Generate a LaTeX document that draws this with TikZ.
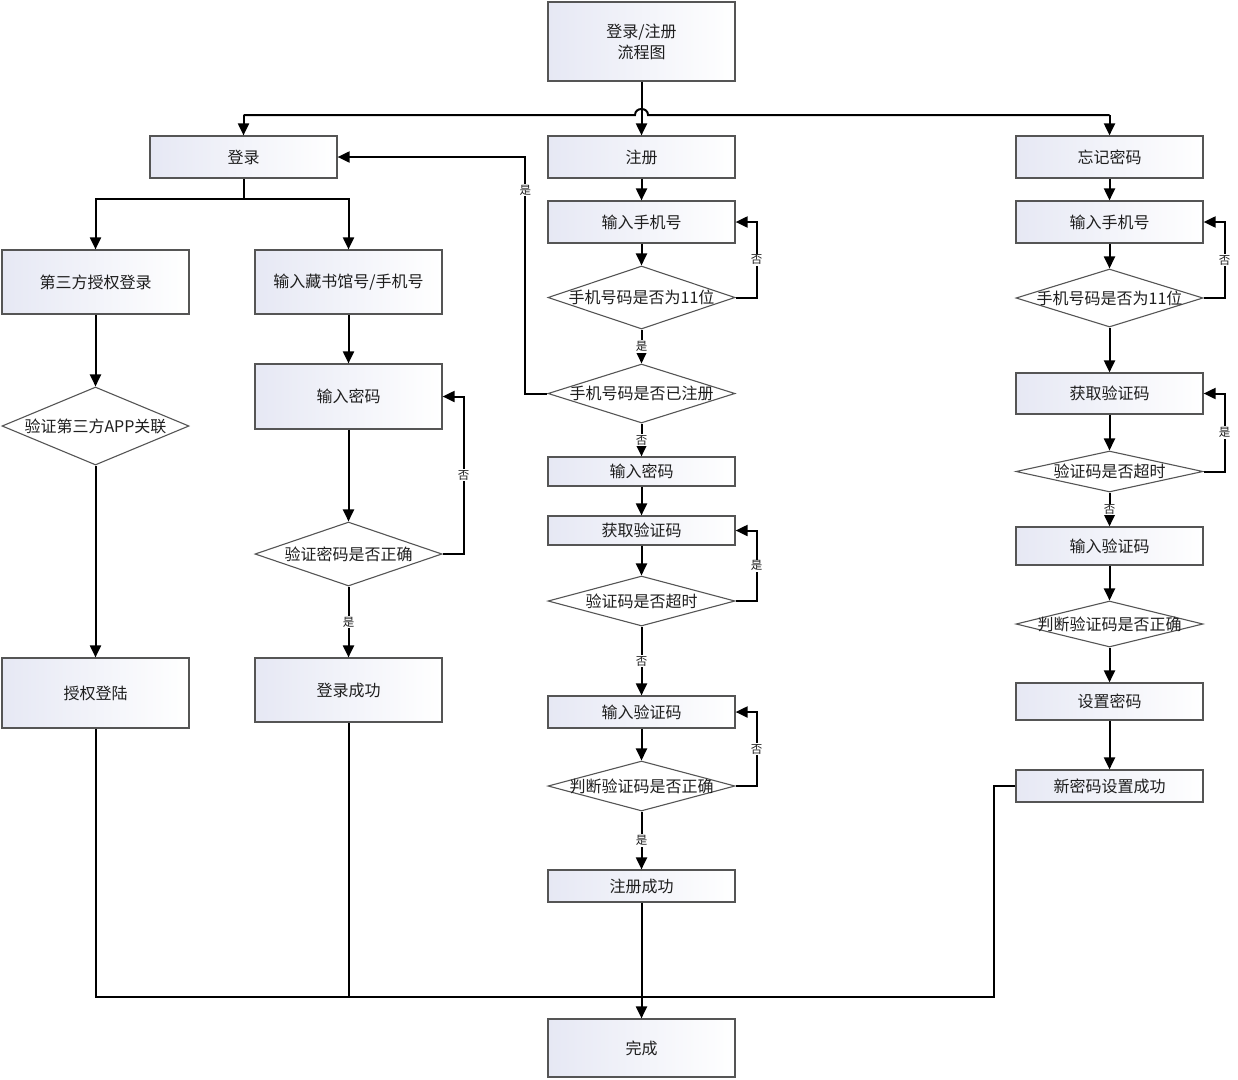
\documentclass[tikz,border=0pt]{standalone}
\usepackage{fontspec}
\setmainfont{Noto Sans CJK SC}
\usetikzlibrary{arrows.meta,shapes.geometric}
\definecolor{boxc}{RGB}{230,232,244}
\definecolor{edgec}{RGB}{85,85,85}
\definecolor{txtc}{RGB}{30,30,30}
\tikzset{
  box/.style={draw=edgec,line width=1.2pt,left color=boxc,right color=white,
    minimum width=187pt,inner sep=0pt,text=txtc,font=\fontsize{16}{21}\selectfont,align=center},
  dia/.style={draw=edgec,line width=1.1pt,fill=white,diamond,inner sep=0pt,
    minimum width=187pt,text=txtc,font=\fontsize{16}{21}\selectfont},
  conn/.style={line width=2pt,black},
  arr/.style={conn,-{Triangle[length=12pt,width=11pt]}},
  lab/.style={fill=white,inner sep=1pt,text=txtc,font=\fontsize{11.5}{13}\selectfont}
}
\begin{document}
\begin{tikzpicture}[x=1pt,y=-1pt]
\useasboundingbox[fill=white] (0,0) rectangle (1238,1079);
% left / login
\node[box,minimum height=79pt] (title) at (641.5,41.5) {登录/注册\\流程图};
\node[box,minimum height=42pt] (login) at (243.5,157) {登录};
\node[box,minimum height=42pt] (reg) at (641.5,157) {注册};
\node[box,minimum height=42pt] (forgot) at (1109.5,157) {忘记密码};
\node[box,minimum height=64pt] (third) at (95.5,282) {第三方授权登录};
\node[box,minimum height=64pt] (inlib) at (348.5,282) {输入藏书馆号/手机号};
\node[box,minimum height=65pt] (lpwd) at (348.5,396.5) {输入密码};
\node[dia,minimum height=78pt] (dthird) at (95.5,426) {\makebox[0pt]{验证第三方APP关联}};
\node[dia,minimum height=64pt] (dlpwd) at (348.5,554) {\makebox[0pt]{验证密码是否正确}};
\node[box,minimum height=70pt] (auth) at (95.5,693) {授权登陆};
\node[box,minimum height=64pt] (lok) at (348.5,690) {登录成功};
% middle / register
\node[box,minimum height=42pt] (r1) at (641.5,222) {输入手机号};
\node[dia,minimum height=63pt] (rd1) at (641.5,297.5) {\makebox[0pt]{手机号码是否为11位}};
\node[dia,minimum height=59pt] (rd2) at (641.5,393.5) {\makebox[0pt]{手机号码是否已注册}};
\node[box,minimum height=29pt] (r2) at (641.5,471.5) {输入密码};
\node[box,minimum height=29pt] (r3) at (641.5,530.5) {获取验证码};
\node[dia,minimum height=50pt] (rd3) at (641.5,601) {\makebox[0pt]{验证码是否超时}};
\node[box,minimum height=32pt] (r4) at (641.5,712) {输入验证码};
\node[dia,minimum height=50pt] (rd4) at (641.5,786) {\makebox[0pt]{判断验证码是否正确}};
\node[box,minimum height=32pt] (rok) at (641.5,886) {注册成功};
\node[box,minimum height=58pt] (done) at (641.5,1048) {完成};
% right / forgot
\node[box,minimum height=42pt] (f1) at (1109.5,222) {输入手机号};
\node[dia,minimum height=58pt] (fd1) at (1109.5,298) {\makebox[0pt]{手机号码是否为11位}};
\node[box,minimum height=41pt] (f2) at (1109.5,393.5) {获取验证码};
\node[dia,minimum height=41pt] (fd2) at (1109.5,471.5) {\makebox[0pt]{验证码是否超时}};
\node[box,minimum height=38pt] (f3) at (1109.5,546) {输入验证码};
\node[dia,minimum height=46pt] (fd3) at (1109.5,624) {\makebox[0pt]{判断验证码是否正确}};
\node[box,minimum height=37pt] (f4) at (1109.5,701.5) {设置密码};
\node[box,minimum height=32pt] (fok) at (1109.5,786) {新密码设置成功};
% coordinates
\coordinate (tl) at (243.5,115);
\coordinate (tr) at (1109.5,115);
\coordinate (lb) at (243.5,199);
\coordinate (m) at (641.5,997);
% top connectors
\draw[arr] (title.south) -- (reg.north);
\draw[conn] (tl) -- (635,115) .. controls (635,107) and (648,107) .. (648,115) -- (tr);
\draw[arr] (tl) -- (login.north);
\draw[arr] (tr) -- (forgot.north);
% login branch
\draw[conn] (login.south) -- (lb);
\draw[arr] (lb) -| (third.north);
\draw[arr] (lb) -| (inlib.north);
\draw[arr] (third) -- (dthird);
\draw[arr] (dthird) -- (auth);
\draw[arr] (inlib) -- (lpwd);
\draw[arr] (lpwd) -- (dlpwd);
\draw[arr] (dlpwd.east) -- ++(21,0) |- node[lab,pos=0.25] {否} (lpwd.east);
\draw[arr] (dlpwd) -- node[lab] {是} (lok);
% register branch
\draw[arr] (reg) -- (r1);
\draw[arr] (r1) -- (rd1);
\draw[arr] (rd1.east) -- ++(21,0) |- node[lab,pos=0.25] {否} (r1.east);
\draw[arr] (rd1) -- node[lab] {是} (rd2);
\draw[arr] (rd2.west) -- ++(-22,0) |- node[lab,pos=0.43] {是} (login.east);
\draw[arr] (rd2) -- node[lab] {否} (r2);
\draw[arr] (r2) -- (r3);
\draw[arr] (r3) -- (rd3);
\draw[arr] (rd3.east) -- ++(21,0) |- node[lab,pos=0.25] {是} (r3.east);
\draw[arr] (rd3) -- node[lab] {否} (r4);
\draw[arr] (r4) -- (rd4);
\draw[arr] (rd4.east) -- ++(21,0) |- node[lab,pos=0.25] {否} (r4.east);
\draw[arr] (rd4) -- node[lab] {是} (rok);
\draw[arr] (rok) -- (done);
% forgot branch
\draw[arr] (forgot) -- (f1);
\draw[arr] (f1) -- (fd1);
\draw[arr] (fd1.east) -- ++(21,0) |- node[lab,pos=0.25] {否} (f1.east);
\draw[arr] (fd1) -- (f2);
\draw[arr] (f2) -- (fd2);
\draw[arr] (fd2.east) -- ++(21,0) |- node[lab,pos=0.25] {是} (f2.east);
\draw[arr] (fd2) -- node[lab] {否} (f3);
\draw[arr] (f3) -- (fd3);
\draw[arr] (fd3) -- (f4);
\draw[arr] (f4) -- (fok);
% merge to done
\draw[conn] (auth.south) |- (m);
\draw[conn] (lok.south) |- (m);
\draw[conn] (fok.west) -- ++(-21,0) |- (m);
\end{tikzpicture}
\end{document}
